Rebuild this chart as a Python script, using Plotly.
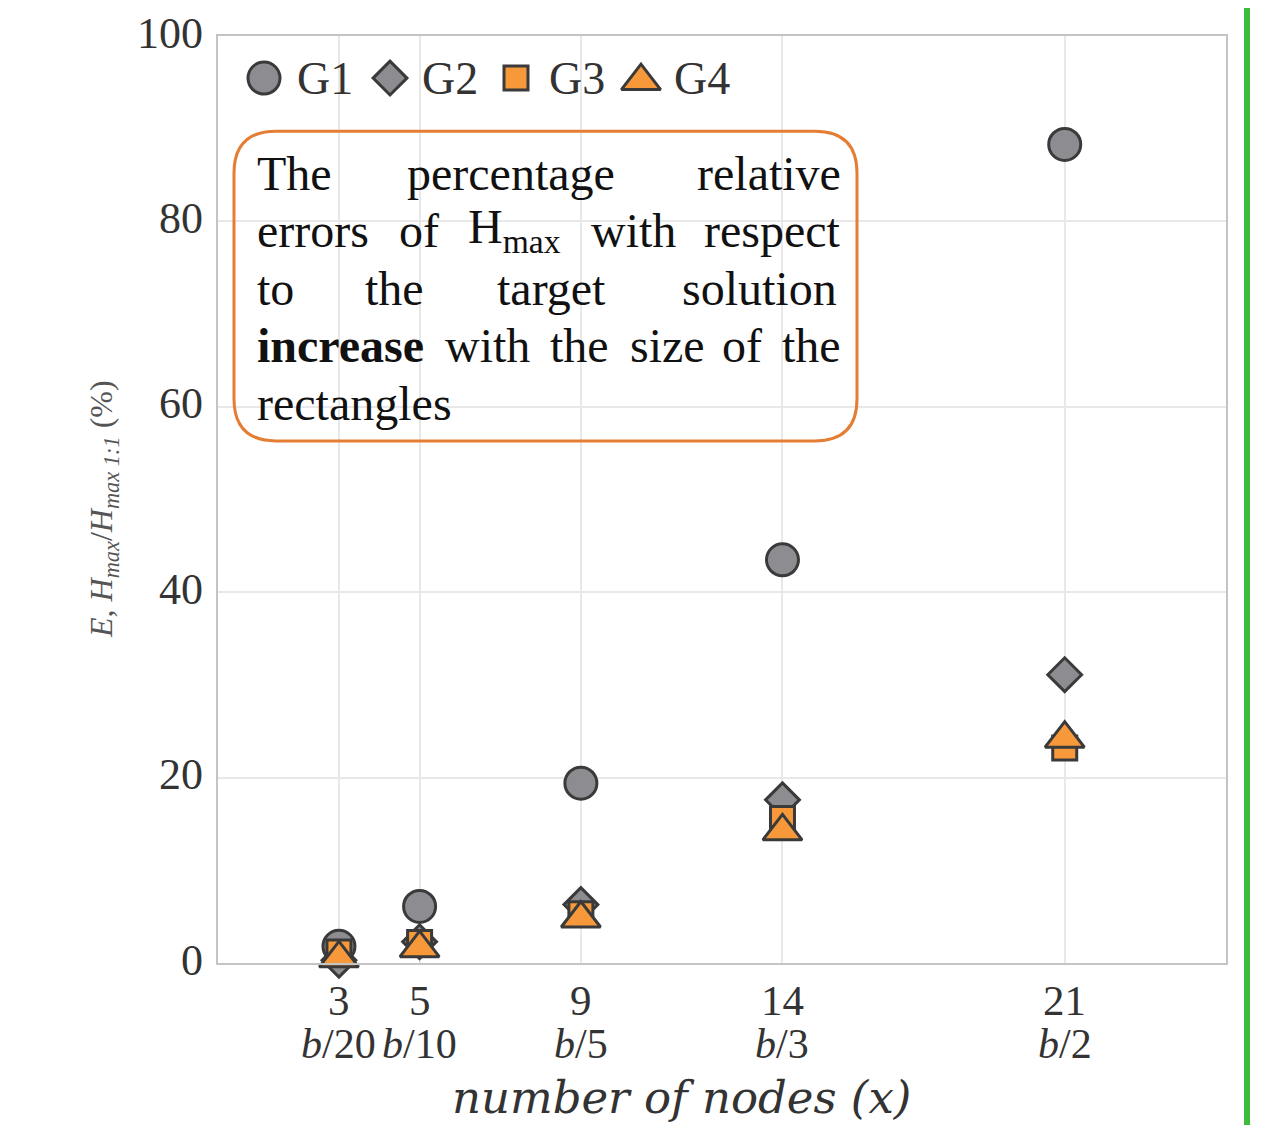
import plotly.graph_objects as go

# ---------------- data ----------------
nodes = [3, 5, 9, 14, 21]
node_frac = ["b/20", "b/10", "b/5", "b/3", "b/2"]
g1 = [1.8, 6.1, 19.4, 43.5, 88.3]
g2 = [0.3, 2.3, 6.3, 17.6, 31.1]
g3 = [1.2, 2.2, 5.3, 15.6, 23.2]
g4 = [0.5, 1.6, 4.8, 14.2, 24.2]
series_names = ["G1", "G2", "G3", "G4"]
y_ticks = [0, 20, 40, 60, 80, 100]

# ---------------- style ----------------
GRAY = "#8d8d91"
ORANGE = "#f7993a"
EDGE = "#3a3a3a"
TXT = "#333333"
SERIF = "Liberation Serif, Times New Roman, serif"
symbols = ["circle", "diamond", "square", "triangle-up"]
sizes = [32, 26, 24, 34]
fills = [GRAY, GRAY, ORANGE, ORANGE]

# page geometry (the page body adds an offset)
OFF = 8
TOP_FIX = 2
PAGE_W, PAGE_H = 1285, 1125
L, R, T, B = 218, 1226, 38, 963   # plot area in page pixels
W, H = PAGE_W - OFF, PAGE_H - OFF


def px(x):
    return (x - L) / (R - L)


def py(y):
    return (B - y) / (B - T)


fig = go.Figure()
for name, vals, sym, sz, col in zip(series_names, [g1, g2, g3, g4], symbols, sizes, fills):
    fig.add_trace(go.Scatter(
        x=nodes, y=vals, mode="markers", name=name, showlegend=False,
        cliponaxis=False,
        marker=dict(symbol=sym, size=sz, color=col, line=dict(color=EDGE, width=3)),
    ))

# manual legend (large symbols) on a pixel overlay axis
leg_x = [264, 390, 516, 641]
leg_text_x = [295, 420, 547, 672]
leg_y = 80
for name, sym, sz, col, lx in zip(series_names, symbols, sizes, fills, leg_x):
    fig.add_trace(go.Scatter(
        x=[lx], y=[leg_y + (3 if sym == "triangle-up" else 0)], mode="markers",
        xaxis="x2", yaxis="y2", showlegend=False, cliponaxis=False,
        marker=dict(symbol=sym, size=sz, color=col, line=dict(color=EDGE, width=3)),
        hoverinfo="skip",
    ))

annotations = []
for name, tx in zip(series_names, leg_text_x):
    annotations.append(dict(
        x=px(tx), y=py(leg_y), xref="paper", yref="paper", xanchor="left", yanchor="middle",
        text=name, showarrow=False, font=dict(family=SERIF, size=46, color=TXT),
    ))

# y tick labels (slightly raised, as in the reference)
for v in y_ticks:
    annotations.append(dict(
        x=px(205), y=v, xref="paper", yref="y", xanchor="right", yanchor="middle", yshift=3,
        text=str(v), showarrow=False, font=dict(family=SERIF, size=44, color=TXT),
    ))

# two-line x tick labels
for n, f in zip(nodes, node_frac):
    annotations.append(dict(
        x=n, y=py(1000), xref="x", yref="paper", xanchor="center", yanchor="middle",
        text=str(n), showarrow=False,
        font=dict(family=SERIF, size=43, color=TXT),
    ))
    annotations.append(dict(
        x=n, y=py(1044), xref="x", yref="paper", xanchor="center", yanchor="middle",
        text=f"<i>{f[0]}</i>{f[1:]}", showarrow=False,
        font=dict(family=SERIF, size=42, color=TXT),
    ))

# text box words (justified layout)
box_font = dict(family=SERIF, size=48, color="#111111")
lines = [
    (175, [(255, "The"), (405, "percentage"), (695, "relative")]),
    (232, [(255, "errors"), (397, "of"), (466, "H<sub>max</sub>"), (589, "with"), (702, "respect")]),
    (290, [(255, "to"), (363, "the"), (495, "target"), (680, "solution")]),
    (347, [(255, "<b>increase</b>"), (443, "with"), (548, "the"), (628, "size"), (720, "of"), (780, "the")]),
    (405, [(255, "rectangles")]),
]
for ly, words in lines:
    for wx, w in words:
        annotations.append(dict(
            x=px(wx), y=py(ly), xref="paper", yref="paper", xanchor="left", yanchor="middle",
            text=w, showarrow=False, font=box_font,
        ))

# x-axis title
annotations.append(dict(
    x=px(681), y=py(1097), xref="paper", yref="paper", xanchor="center", yanchor="middle",
    text="<i>number of nodes (x)</i>", showarrow=False,
    font=dict(family="DejaVu Serif, serif", size=45, color=TXT),
))
# y-axis title (rotated)
annotations.append(dict(
    x=px(103), y=py(510), xref="paper", yref="paper", xanchor="center", yanchor="middle",
    textangle=-90,
    text="<i>E</i>, <i>H<sub>max</sub></i>/<i>H<sub>max 1:1</sub></i> (%)", showarrow=False,
    font=dict(family=SERIF, size=32, color="#555555"),
))

# rounded box path
bx0, bx1, by0, by1, rr = 234, 857, 133, 442, 42


def P(x, y):
    return f"{px(x):.5f},{py(y):.5f}"


path = (
    f"M {P(bx0 + rr, by0)} L {P(bx1 - rr, by0)} Q {P(bx1, by0)} {P(bx1, by0 + rr)} "
    f"L {P(bx1, by1 - rr)} Q {P(bx1, by1)} {P(bx1 - rr, by1)} "
    f"L {P(bx0 + rr, by1)} Q {P(bx0, by1)} {P(bx0, by1 - rr)} "
    f"L {P(bx0, by0 + rr)} Q {P(bx0, by0)} {P(bx0 + rr, by0)} Z"
)
shapes = [
    dict(type="path", xref="paper", yref="paper", path=path,
         line=dict(color="#e57e35", width=3), fillcolor="rgba(255,255,255,0)", layer="above"),
    dict(type="line", xref="paper", yref="paper", x0=px(1247), x1=px(1247), y0=py(PAGE_H + 10), y1=py(0),
         line=dict(color="#3dbb3d", width=6)),
]

fig.update_layout(
    width=W, height=H,
    margin=dict(l=L - OFF, r=W - (R - OFF), t=T - OFF - TOP_FIX, b=H - (B - OFF), pad=0),
    paper_bgcolor="white", plot_bgcolor="white",
    showlegend=False,
    annotations=annotations,
    shapes=shapes,
    xaxis=dict(
        range=[0, 25], tickmode="array", tickvals=nodes, showticklabels=False,
        showgrid=True, gridcolor="#e8e8e8", gridwidth=1.5, zeroline=False,
        showline=True, linecolor="#c4c4c4", linewidth=2, mirror=True, ticks="",
    ),
    yaxis=dict(
        range=[0, 100], tickmode="array", tickvals=y_ticks, showticklabels=False,
        showgrid=True, gridcolor="#e8e8e8", gridwidth=1.5, zeroline=False,
        showline=True, linecolor="#c4c4c4", linewidth=2, mirror=True, ticks="",
    ),
    xaxis2=dict(overlaying="x", range=[L, R], visible=False, fixedrange=True),
    yaxis2=dict(overlaying="y", range=[B, T], visible=False, fixedrange=True),
)

fig.write_html("out.html")
